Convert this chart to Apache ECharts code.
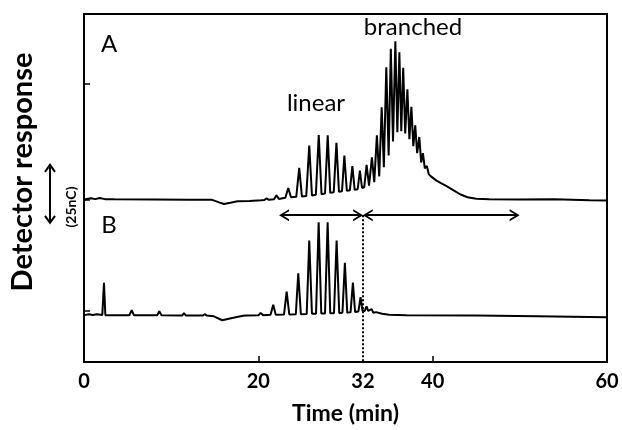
<!DOCTYPE html>
<html>
<head>
<meta charset="utf-8">
<script src="https://cdn.jsdelivr.net/npm/echarts@6/dist/echarts.min.js"></script>
<style>
	body { margin: 0; background: #fff; }
	#chart { width: 622px; height: 430px; }
</style>
</head>
<body>
<div id="chart"></div>
<script>
// trace A (upper), time in min and response in nC
var timeA = [0, 0.8, 1.3, 1.8, 2.4, 3.5, 8, 12, 14.7, 15.5, 16.05, 16.8, 17.6, 19, 20.3, 20.7, 20.95, 21.2, 21.8, 22.08, 22.35,
	23.1, 23.43, 23.75, 24.35, 24.69, 25.0, 25.5, 25.84, 26.15, 26.6, 26.93, 27.25, 27.65, 27.96, 28.25,
	28.65, 28.96, 29.25, 29.6, 29.87, 30.15, 30.5, 30.79, 31.05, 31.4, 31.65, 31.9, 32.15, 32.42, 32.7,
	33.03, 33.3, 33.6, 33.87, 34.15, 34.4, 34.68, 34.95, 35.2, 35.45, 35.72, 35.95, 36.18, 36.4, 36.62, 36.85,
	37.1, 37.33, 37.56, 37.78, 38.0, 38.22, 38.47, 38.68, 38.88, 39.1, 39.33, 39.55, 39.8, 40.4, 41.0, 41.6,
	42.4, 43.2, 44.0, 45.0, 46.5, 50, 54, 58, 60];
var respA = [50, 50.6, 50.2, 50.7, 50.2, 50.1, 50, 49.9, 49.9, 48.8, 48.1, 48.6, 49.3, 49.4, 49.7, 49.8, 50.6, 49.9, 50.1, 51.9, 50.3,
	50.8, 55, 51, 51.2, 63.7, 51.3, 51.6, 73.3, 51.8, 52.1, 77.8, 52.3, 52.6, 77.7, 52.9,
	53.2, 74.5, 53.4, 53.6, 69, 53.8, 54, 64.4, 54.2, 54.5, 62.5, 55, 55.3, 65, 56,
	68.2, 57.5, 77.7, 60, 89.8, 64, 107, 69, 115, 75, 118.2, 79, 113.5, 79.5, 106.8, 78.5,
	97.5, 76, 90, 73, 82, 70, 77, 66, 70, 63.5, 64.5, 61, 60, 58.3, 57, 55.8,
	54, 52.2, 51, 50.4, 50.1, 50, 50.2, 49.7, 49.6];

// trace B (lower)
var timeB = [0, 0.6, 1.0, 1.5, 2.1, 2.29, 2.45, 3, 5.2, 5.47, 5.75, 8.4, 8.64, 8.9, 11.25, 11.47, 11.7, 13.6, 13.84, 14.1,
	14.9, 15.86, 17.0, 17.97, 18.25, 18.43, 18.65, 20.0, 20.26, 20.55,
	21.4, 21.71, 22.0, 22.95, 23.25, 23.55, 24.3, 24.58, 24.88, 25.55, 25.84, 26.15, 26.62, 26.92, 27.22,
	27.65, 27.95, 28.25, 28.68, 28.98, 29.28, 29.65, 29.93, 30.2, 30.58, 30.85, 31.1, 31.48, 31.73, 31.95,
	32.2, 32.42, 32.6, 32.8, 33.0, 33.2, 33.5, 33.7, 34.2, 35, 37, 45, 52, 60];
var respB = [0.2, 0.6, 0.3, 0.6, 0.3, 14.1, 0.2, 0.1, 0.1, 2.3, 0.1, 0.1, 1.9, 0.1, 0, 1.1, 0, 0, 0.6, 0,
	-0.3, -2, -1, -0.3, -0.1, 0.5, 0, 0.1, 1.1, 0.2,
	0.4, 4.7, 0.4, 0.5, 10.3, 0.5, 0.6, 18.2, 0.6, 0.7, 32.4, 0.8, 0.8, 40.2, 0.9,
	0.9, 40.2, 1.0, 1.0, 32.4, 1.1, 1.2, 22.8, 1.3, 1.4, 14.2, 1.6, 1.8, 8, 2,
	2, 4, 2, 1.8, 2.8, 1.2, 1.5, 0.8, 0.8, 0.4, 0.2, 0, -0.3, -0.7];

var xLabels = [0, 20, 32, 40, 60];
var xTicks = [20, 40];
var yTicks = [2, 50, 100];

// fraction ranges (min) and the level they are drawn at
var linearRange = [22.95, 31.45];
var branchedRange = [32.55, 49.4];
var arrowLevel = 43.3;
var cutTime = 32;
var scaleBar = [40, 65]; // 25 nC

function pairs(t, v) {
	var out = [];
	for (var i = 0; i < t.length; i++) {
		out.push([t[i], v[i]]);
	}
	return out;
}

var chevron = 'path://M0,10 L6,0 L12,10 L10,10 L6.9,4.8 L6.9,10 L5.1,10 L5.1,4.8 L2,10 Z';
var font = 'Lato';

var chart = echarts.init(document.getElementById('chart'));

var option = {
	animation: false,
	grid: {
		left: 84, right: 15, top: 14, bottom: 68,
		show: true, borderColor: '#000', borderWidth: 2
	},
	xAxis: {
		type: 'value', min: 0, max: 60,
		axisLine: { show: false, onZero: false },
		splitLine: { show: false },
		axisTick: { inside: true, length: 6, customValues: xTicks, lineStyle: { color: '#000', width: 1.5 } },
		axisLabel: { customValues: xLabels, color: '#000', fontWeight: 'bold', fontSize: 20, fontFamily: font, margin: 10 },
		name: 'Time (min)', nameLocation: 'middle', nameGap: 40,
		nameTextStyle: { color: '#000', fontWeight: 'bold', fontSize: 23, fontFamily: font }
	},
	yAxis: {
		type: 'value', min: -20, max: 130,
		axisLine: { show: false, onZero: false },
		splitLine: { show: false },
		axisLabel: { show: false },
		axisTick: { inside: true, length: 6, customValues: yTicks, lineStyle: { color: '#000', width: 1.5 } }
	},
	series: [{
		name: 'A', type: 'line', data: pairs(timeA, respA),
		showSymbol: false, lineStyle: { color: '#000', width: 2 }
	}, {
		name: 'B', type: 'line', data: pairs(timeB, respB),
		showSymbol: false, lineStyle: { color: '#000', width: 2 }
	}, {
		name: 'marks', type: 'line', data: [],
		markLine: {
			silent: true,
			symbol: [chevron, chevron],
			symbolSize: [12, 10],
			label: { show: false },
			lineStyle: { color: '#000', width: 2, type: 'solid' },
			data: [
				[{ coord: [linearRange[0], arrowLevel] }, { coord: [linearRange[1], arrowLevel] }],
				[{ coord: [branchedRange[0], arrowLevel] }, { coord: [branchedRange[1], arrowLevel] }],
				[{ coord: [cutTime, arrowLevel], symbol: 'none' }, { coord: [cutTime, -20], symbol: 'none',
					lineStyle: { type: 'dotted', width: 2 } }]
			]
		}
	}]
};

chart.setOption(option);

// scale bar for 25 nC, drawn on the y scale
var y0 = chart.convertToPixel({ yAxisIndex: 0 }, scaleBar[0]);
var y1 = chart.convertToPixel({ yAxisIndex: 0 }, scaleBar[1]);
var bx = 50;

function label(txt, x, y, f, rot) {
	return { type: 'text', x: x, y: y, rotation: rot || 0, silent: true,
		style: { text: txt, font: f, fill: '#000', align: 'center', verticalAlign: 'middle' } };
}

chart.setOption({
	graphic: [
		label('A', 109, 44, '24px ' + font),
		label('B', 109, 225, '24px ' + font),
		label('linear', 316, 103, '24px ' + font),
		label('branched', 413, 27, '24px ' + font),
		label('Detector response', 23, 172, 'bold 29px ' + font, Math.PI / 2),
		label('(25nC)', 71, 207, 'bold 14px ' + font, Math.PI / 2),
		{ type: 'line', silent: true, shape: { x1: bx, y1: y1, x2: bx, y2: y0 }, style: { stroke: '#000', lineWidth: 2 } },
		{ type: 'polyline', silent: true, shape: { points: [[bx - 5, y1 + 7], [bx, y1], [bx + 5, y1 + 7]] }, style: { stroke: '#000', lineWidth: 2, fill: null } },
		{ type: 'polyline', silent: true, shape: { points: [[bx - 5, y0 - 7], [bx, y0], [bx + 5, y0 - 7]] }, style: { stroke: '#000', lineWidth: 2, fill: null } }
	]
});
</script>
</body>
</html>
